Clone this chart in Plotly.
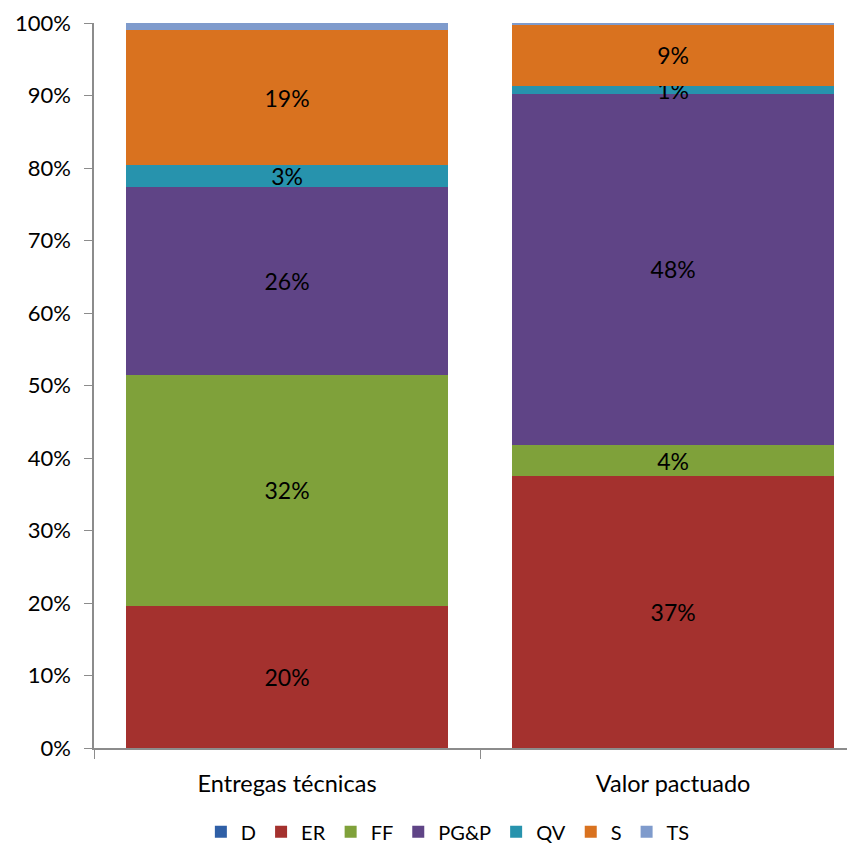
import plotly.graph_objects as go

categories = ["Entregas técnicas", "Valor pactuado"]
series_names = ["D", "ER", "FF", "PG&P", "QV", "S", "TS"]
D = [0.0, 0.05]
ER = [19.6, 37.4]
FF = [31.9, 4.4]
PGP = [25.9, 48.4]
QV = [3.0, 1.0]
S = [18.6, 8.6]
TS = [1.0, 0.15]
values = [D, ER, FF, PGP, QV, S, TS]
show_labels = [False, True, True, True, True, True, False]
colors = ["#2F5FA6", "#A4312E", "#7FA13A", "#5F4486", "#2793AD", "#D9721F", "#7F9BCC"]
y_ticks = list(range(0, 101, 10))
y_ticktext = [f"{v}%" for v in y_ticks]

FONT = "Lato, Carlito, sans-serif"

fig = go.Figure()
for name, vals, col, lab in zip(series_names, values, colors, show_labels):
    fig.add_trace(go.Bar(
        x=categories, y=vals, name=name,
        marker=dict(color=col, line=dict(width=0)),
        texttemplate="%{y:.0f}%" if lab else None,
        textposition="inside" if lab else "none",
        insidetextanchor="middle",
        textangle=0,
        constraintext="none",
        textfont=dict(family=FONT, size=23, color="black"),
        hoverinfo="skip",
    ))

fig.update_layout(
    barmode="stack",
    bargap=0.166,
    width=847, height=844,
    margin=dict(l=86, r=0, t=15, b=104, autoexpand=False),
    paper_bgcolor="white", plot_bgcolor="white",
    font=dict(family=FONT, size=22, color="black"),
    showlegend=True,
    legend=dict(orientation="h", x=0.465, xanchor="center", y=-0.1425, yanchor="bottom",
                font=dict(size=20), traceorder="normal", itemwidth=30, tracegroupgap=0),
    xaxis=dict(range=[-0.5, 1.471], showline=True, linecolor="#8c8c8c", linewidth=1.5,
               ticks="outside", tickson="boundaries", ticklen=9, tickcolor="#8c8c8c",
               ticklabelstandoff=14,
               showgrid=False, tickfont=dict(size=23.5)),
    yaxis=dict(range=[0, 100], showline=True, linecolor="#8c8c8c", linewidth=1.5,
               ticks="outside", ticklen=8, tickcolor="#8c8c8c",
               ticklabelstandoff=9,
               tickmode="array", tickvals=y_ticks, ticktext=y_ticktext,
               showgrid=False, zeroline=False, tickfont=dict(size=22)),
)

fig.write_html("out.html")
